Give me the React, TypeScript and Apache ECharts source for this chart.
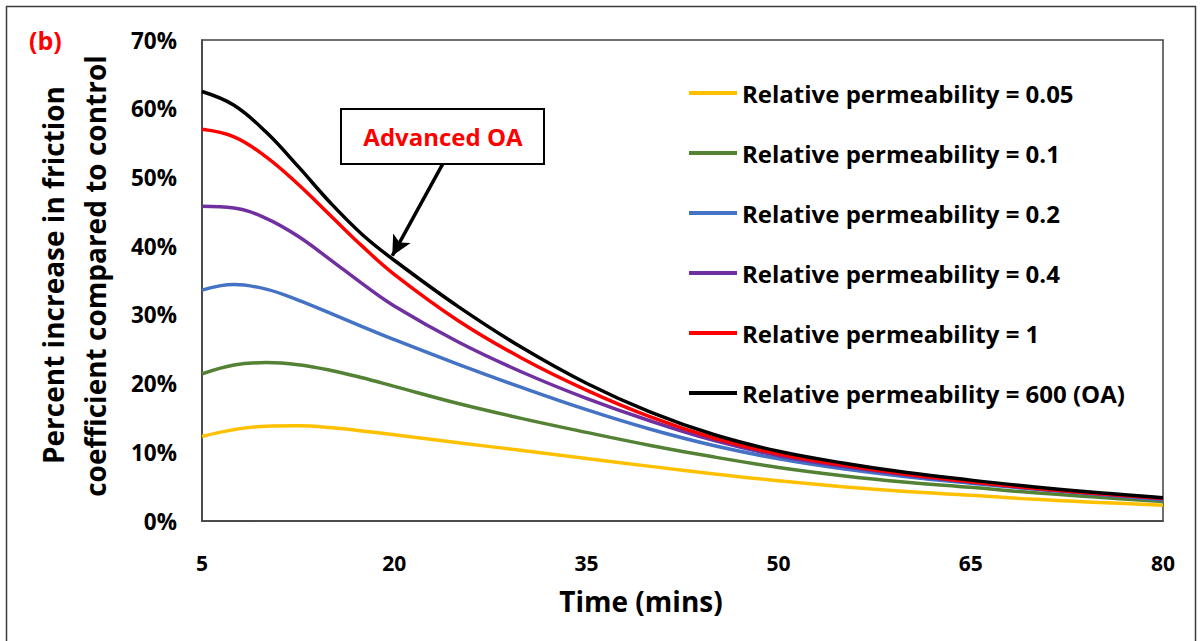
import React, { useEffect, useRef } from "react";
import * as echarts from "echarts";

// Time axis (minutes)
const TIMES = [5, 7.5, 10, 12.5, 15, 17.5, 20, 25, 30, 35, 40, 45, 50, 55, 60, 65, 70, 75, 80];
const X_TICKS = [5, 20, 35, 50, 65, 80];

// Percent increase in friction coefficient, one list per relative permeability
const PERM_005 = [12.3, 13.3, 13.8, 13.85, 13.6, 13.1, 12.55, 11.4, 10.25, 9.1, 7.95, 6.85, 5.85, 5.0, 4.3, 3.75, 3.15, 2.7, 2.3];
const PERM_01 = [21.4, 22.7, 23.05, 22.75, 21.95, 20.85, 19.6, 17.1, 14.9, 12.9, 11.0, 9.3, 7.8, 6.6, 5.65, 4.9, 4.1, 3.45, 2.85];
const PERM_02 = [33.6, 34.4, 33.75, 32.15, 30.25, 28.3, 26.4, 22.8, 19.4, 16.2, 13.35, 10.95, 9.05, 7.6, 6.45, 5.5, 4.65, 3.85, 3.1];
const PERM_04 = [45.8, 45.55, 44.05, 41.45, 38.05, 34.55, 31.3, 26.05, 21.65, 17.85, 14.55, 11.7, 9.5, 7.95, 6.7, 5.65, 4.7, 3.95, 3.25];
const PERM_1 = [57.0, 55.9, 53.0, 49.0, 44.5, 40.0, 35.9, 29.15, 23.65, 19.05, 15.15, 12.05, 9.75, 8.15, 6.8, 5.7, 4.75, 3.95, 3.3];
const PERM_600 = [62.5, 60.5, 56.6, 51.6, 46.35, 41.7, 37.95, 31.2, 25.2, 20.05, 15.85, 12.55, 10.15, 8.45, 7.05, 5.95, 4.95, 4.1, 3.4];

const SERIES_NAMES = [
  "Relative permeability = 0.05",
  "Relative permeability = 0.1",
  "Relative permeability = 0.2",
  "Relative permeability = 0.4",
  "Relative permeability = 1",
  "Relative permeability = 600 (OA)",
];
const SERIES_VALUES = [PERM_005, PERM_01, PERM_02, PERM_04, PERM_1, PERM_600];
const SERIES_COLORS = ["#FFC000", "#548235", "#4472C4", "#7030A0", "#FF0000", "#000000"];

// Annotation arrow endpoints (time, percent)
const ARROW_FROM = [23.8, 52.0];
const ARROW_TO = [19.85, 38.6];

const FONT = "'Open Sans', 'Noto Sans', sans-serif";

export default function App() {
  const ref = useRef<HTMLDivElement>(null);

  useEffect(() => {
    if (!ref.current) return;
    const chart = echarts.init(ref.current, undefined, { renderer: "svg" });

    const series = SERIES_NAMES.map((name, i) => {
      const s: any = {
        name,
        type: "line",
        data: TIMES.map((t, j) => [t, SERIES_VALUES[i][j]]),
        smooth: 0.4,
        showSymbol: false,
        symbol: "none",
        lineStyle: { color: SERIES_COLORS[i], width: 3.5 },
        itemStyle: { color: SERIES_COLORS[i] },
        z: 2 + i,
      };
      if (i === SERIES_NAMES.length - 1) {
        s.markLine = {
          silent: true,
          symbol: ["none", "arrow"],
          symbolSize: [15, 20],
          label: { show: false },
          lineStyle: { color: "#000", width: 3.5, type: "solid" },
          data: [[{ coord: ARROW_FROM }, { coord: ARROW_TO }]],
        };
      }
      return s;
    });

    chart.setOption({
      animation: false,
      textStyle: { fontFamily: FONT },
      grid: {
        left: 202,
        top: 40,
        width: 961,
        height: 481,
        show: true,
        borderColor: "#404040",
        borderWidth: 1.5,
        backgroundColor: "#fff",
      },
      xAxis: {
        type: "value",
        min: 5,
        max: 80,
        axisLine: { show: true, lineStyle: { color: "#404040", width: 1.5 } },
        axisTick: { show: false },
        splitLine: { show: false },
        axisLabel: {
          customValues: X_TICKS,
          margin: 31,
          color: "#000",
          fontWeight: "bold",
          fontSize: 21,
          fontFamily: FONT,
        },
      },
      yAxis: {
        type: "value",
        min: 0,
        max: 70,
        interval: 10,
        axisLine: { show: true, lineStyle: { color: "#404040", width: 1.5 } },
        axisTick: { show: false },
        splitLine: { show: false },
        axisLabel: {
          formatter: "{value}%",
          margin: 25,
          color: "#000",
          fontWeight: "bold",
          fontSize: 22.5,
          fontFamily: FONT,
        },
      },
      legend: {
        orient: "vertical",
        left: 689,
        top: 81,
        padding: 0,
        itemWidth: 48,
        itemHeight: 4,
        itemGap: 36,
        icon: "rect",
        data: SERIES_NAMES,
        textStyle: {
          color: "#000",
          fontWeight: "bold",
          fontSize: 24,
          lineHeight: 24,
          fontFamily: FONT,
        },
      },
      graphic: [
        {
          type: "rect",
          shape: { x: 6.5, y: 6.5, width: 1189, height: 660 },
          style: { fill: "none", stroke: "#3a3a3a", lineWidth: 1.5 },
          silent: true,
        },
        {
          type: "text",
          x: 29,
          y: 40,
          style: {
            text: "(b)",
            fill: "#FF0000",
            font: `bold 25px ${FONT}`,
            textAlign: "left",
            textVerticalAlign: "middle",
          },
        },
        {
          type: "text",
          x: 53,
          y: 275,
          rotation: Math.PI / 2,
          style: {
            text: "Percent increase in friction",
            fill: "#000",
            font: `bold 28px ${FONT}`,
            textAlign: "center",
            textVerticalAlign: "middle",
          },
        },
        {
          type: "text",
          x: 95,
          y: 276,
          rotation: Math.PI / 2,
          style: {
            text: "coefficient compared to control",
            fill: "#000",
            font: `bold 28px ${FONT}`,
            textAlign: "center",
            textVerticalAlign: "middle",
          },
        },
        {
          type: "text",
          x: 641,
          y: 601,
          style: {
            text: "Time (mins)",
            fill: "#000",
            font: `bold 28px ${FONT}`,
            textAlign: "center",
            textVerticalAlign: "middle",
          },
        },
        {
          type: "rect",
          shape: { x: 341, y: 109, width: 203, height: 55 },
          style: { fill: "#fff", stroke: "#000", lineWidth: 2 },
          z: 10,
        },
        {
          type: "text",
          x: 443,
          y: 136,
          z: 11,
          style: {
            text: "Advanced OA",
            fill: "#FF0000",
            font: `bold 24px ${FONT}`,
            textAlign: "center",
            textVerticalAlign: "middle",
          },
        },
      ],
      series,
    });

    return () => chart.dispose();
  }, []);

  return (
    <div
      ref={ref}
      style={{ position: "fixed", left: 0, top: 0, width: 1201, height: 641, background: "#fff" }}
    />
  );
}
